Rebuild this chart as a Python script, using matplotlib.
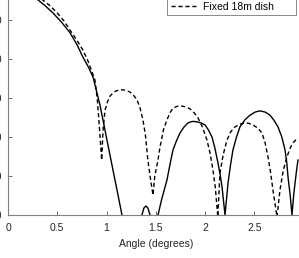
import matplotlib
matplotlib.use("Agg")
import matplotlib.pyplot as plt

plt.rcParams['font.family'] = ['Liberation Sans', 'DejaVu Sans']

# angle (degrees) and gain (dB)
steer_x = [0.0, 0.1, 0.2, 0.305, 0.38, 0.457, 0.545, 0.63, 0.70, 0.76, 0.815, 0.863,
           0.934, 1.005, 1.066, 1.117, 1.157, 1.17,
           1.35, 1.36, 1.38, 1.40, 1.42, 1.442, 1.45,
           1.51, 1.523, 1.56, 1.614, 1.645, 1.675, 1.71, 1.746, 1.785, 1.827, 1.87,
           1.919, 1.96, 2.0, 2.035, 2.071, 2.10, 2.132, 2.155, 2.173, 2.203,
           2.218, 2.234, 2.26, 2.284, 2.32, 2.355, 2.405, 2.457, 2.51, 2.558, 2.61,
           2.66, 2.70, 2.741, 2.78, 2.812, 2.83, 2.843, 2.865, 2.883,
           2.90, 2.914, 2.93, 2.944]
steer_y = [0.0, -0.5, -2.1, -4.87, -6.4, -8.2, -10.6, -13.3, -16.3, -19.5, -22.0, -24.6,
           -31.8, -40.8, -48.5, -54.9, -60.0, -70.0,
           -70.0, -60.0, -58.2, -57.7, -58.2, -60.0, -70.0,
           -70.0, -60.0, -56.0, -51.0, -47.0, -43.3, -41.0, -39.0, -37.5, -36.4, -36.0,
           -36.1, -36.4, -36.9, -38.2, -40.0, -42.8, -46.7, -49.8, -52.8, -60.0,
           -56.0, -51.8, -47.0, -43.3, -40.0, -37.4, -35.6, -34.4, -33.6, -33.3, -33.6,
           -34.4, -35.7, -37.4, -40.0, -43.3, -46.5, -50.3, -55.0, -60.0,
           -55.0, -51.8, -48.5, -45.9]

fixed_x = [0.0, 0.1, 0.2, 0.352, 0.43, 0.50, 0.57, 0.63, 0.70, 0.76, 0.81, 0.853, 0.883,
           0.907, 0.93, 0.951,
           0.965, 0.985, 1.01, 1.036, 1.066, 1.096, 1.13, 1.168, 1.205, 1.24, 1.275,
           1.31, 1.34, 1.37, 1.395, 1.42, 1.445, 1.472,
           1.49, 1.523, 1.543, 1.58, 1.614, 1.645, 1.675, 1.72, 1.767, 1.81, 1.848,
           1.89, 1.929, 1.975, 2.02, 2.05, 2.081, 2.105, 2.13,
           2.152, 2.185, 2.223, 2.26, 2.305, 2.355, 2.406, 2.445, 2.487, 2.535, 2.579,
           2.61, 2.64, 2.665, 2.69, 2.731,
           2.761, 2.795, 2.832, 2.865, 2.893, 2.92, 2.944]
fixed_y = [0.0, -0.5, -1.9, -4.87, -6.4, -8.2, -10.3, -12.6, -15.2, -17.7, -20.4, -23.3, -25.4,
           -30.5, -38.2, -45.9,
           -38.2, -33.1, -31.0, -29.5, -28.7, -28.2, -27.95, -27.9, -28.1, -28.5, -29.3,
           -30.5, -32.5, -35.6, -39.5, -45.9, -50.5, -54.9,
           -50.0, -45.9, -42.6, -38.0, -35.6, -33.8, -32.6, -32.1, -32.1, -32.3, -32.8,
           -33.8, -35.1, -37.5, -40.8, -44.0, -48.5, -53.0, -60.5,
           -49.2, -44.5, -40.8, -38.7, -37.4, -36.7, -36.4, -36.5, -36.9, -37.7, -39.0,
           -41.5, -45.1, -49.0, -53.6, -60.5,
           -53.6, -48.5, -45.1, -42.8, -41.5, -40.8, -40.5]

labels = ['Steerable 18m dish', 'Fixed 18m dish']
x_ticks = [0, 0.5, 1, 1.5, 2, 2.5]
x_tick_labels = ['0', '0.5', '1', '1.5', '2', '2.5']
y_ticks = [-60, -50, -40, -30, -20, -10, 0]

W, H = 299, 258
fig = plt.figure(figsize=(W / 100, H / 100), dpi=100)
# axes runs past the top and right of the picture (cropped figure)
ax = fig.add_axes([8 / W, 43 / H, 295.5 / W, 234 / H])

ax.plot(steer_x, steer_y, color='black', linewidth=1.0, label=labels[0])
ax.plot(fixed_x, fixed_y, color='black', linewidth=1.0, linestyle=(0, (3, 2)), label=labels[1])

ax.set_xlim(0, 3)
ax.set_ylim(-60, 0)
ax.set_xticks(x_ticks)
ax.set_xticklabels(x_tick_labels)
ax.set_yticks(y_ticks)
ax.set_xlabel('Angle (degrees)', fontsize=7.5, color='#262626', labelpad=4)
ax.tick_params(direction='in', length=3, width=0.6, labelsize=7.5,
               colors='#555555', labelcolor='#262626')
ax.tick_params(axis='x', pad=6)
ax.tick_params(axis='y', pad=4)
for side in ['top', 'right']:
    ax.spines[side].set_visible(False)
for side in ['left', 'bottom']:
    ax.spines[side].set_color('#808080')
    ax.spines[side].set_linewidth(0.8)

leg = ax.legend(loc='lower right', bbox_to_anchor=(296 / W, (H - 15) / H),
                bbox_transform=fig.transFigure, borderaxespad=0, fontsize=7.5,
                frameon=True, fancybox=False, handlelength=2.6, handletextpad=0.5,
                borderpad=0.3, labelspacing=0.3)
leg.get_frame().set_edgecolor('#555555')
leg.get_frame().set_linewidth(0.6)

fig.savefig('out.png', dpi=100)
